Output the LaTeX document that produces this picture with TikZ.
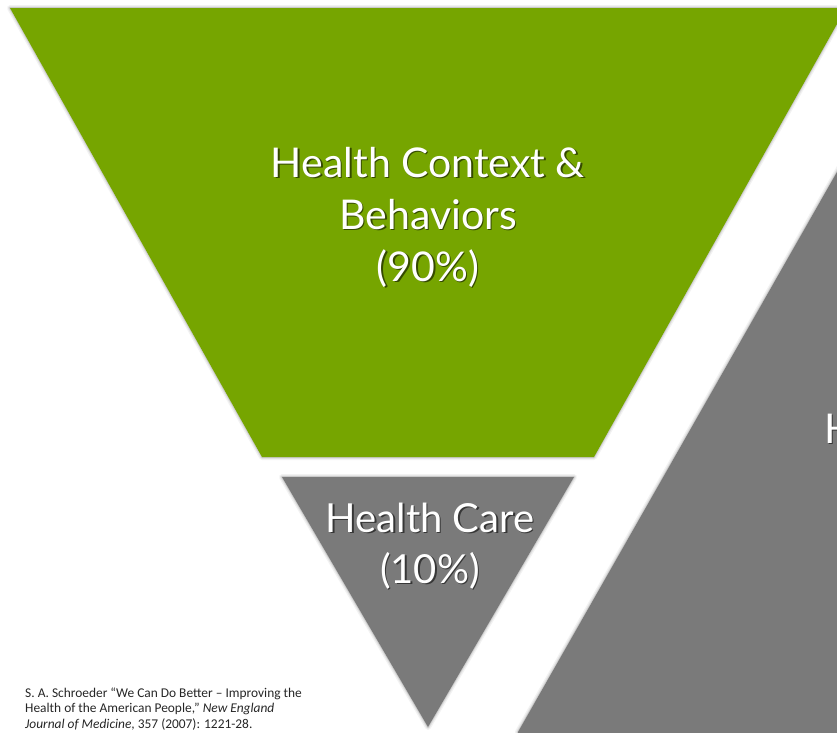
\documentclass[tikz,border=0pt]{standalone}
\usepackage{fontspec}
\setmainfont{Lato}
\newfontfamily\citefont{Carlito}
\definecolor{hgreen}{RGB}{118,165,0}
\definecolor{hgray}{RGB}{122,122,122}
\tikzset{
  softshadow/.style={
    preaction={draw=black,draw opacity=.05,line width=6pt,line join=round},
    preaction={draw=black,draw opacity=.07,line width=3.5pt,line join=round},
    preaction={draw=black,draw opacity=.10,line width=1.6pt,line join=round}},
  hd/.style={text=white,inner sep=0pt,anchor=base,font=\fontsize{41}{50}\selectfont},
  hdsh/.style={hd,text=black,opacity=.55},
  hc/.style={hd,font=\fontsize{40}{46}\selectfont},
  hcsh/.style={hc,text=black,opacity=.55},
  cite/.style={inner sep=0pt,anchor=base west,text=black!85,font=\citefont\fontsize{13.4}{15}\selectfont},
}
\begin{document}
\begin{tikzpicture}[x=1pt,y=-1pt]
\useasboundingbox (0,0) rectangle (837,732);
\clip (0,0) rectangle (837,732);
% shapes
\fill[hgreen,softshadow] (10,8) -- (846,8) -- (594,457) -- (262,457) -- cycle;
\fill[hgray,softshadow] (282,477) -- (574,477) -- (428,727) -- cycle;
\fill[hgray,softshadow] (518,732) -- (837,172) -- (900,60) -- (900,800) -- (518,800) -- cycle;
% green text
\node[hdsh] (s1) at ([xshift=1.5pt,yshift=-1.5pt]428,177) {Health Context \&};
\node[hd] (c1) at (428,177) {Health Context \&};
\node[hdsh] (s2) at ([xshift=1.5pt,yshift=-1.5pt]428,229) {Behaviors};
\node[hd] (c2) at (428,229) {Behaviors};
\node[hdsh] (s3) at ([xshift=1.5pt,yshift=-1.5pt]428,281) {(90\%)};
\node[hd] (c3) at (428,281) {(90\%)};
% health care text
\node[hcsh] (s4) at ([xshift=1.5pt,yshift=-1.5pt]430,532) {Health Care};
\node[hc] (c4) at (430,532) {Health Care};
\node[hcsh] (s5) at ([xshift=1.5pt,yshift=-1.5pt]430,583) {(10\%)};
\node[hc] (c5) at (430,583) {(10\%)};
% right H
\node[hdsh,anchor=base west] (s6) at ([xshift=1.5pt,yshift=-1.5pt]824,443) {H};
\node[hd,anchor=base west] (c6) at (824,443) {H};
% citation
\node[cite] (r1) at (25,697) {S. A. Schroeder “We Can Do Better – Improving the};
\node[cite] (r2) at (25,712.5) {Health of the American People,” \textit{New England}};
\node[cite] (r3) at (25,728) {\textit{Journal of Medicine}, 357 (2007): 1221-28.};
\end{tikzpicture}
\end{document}
